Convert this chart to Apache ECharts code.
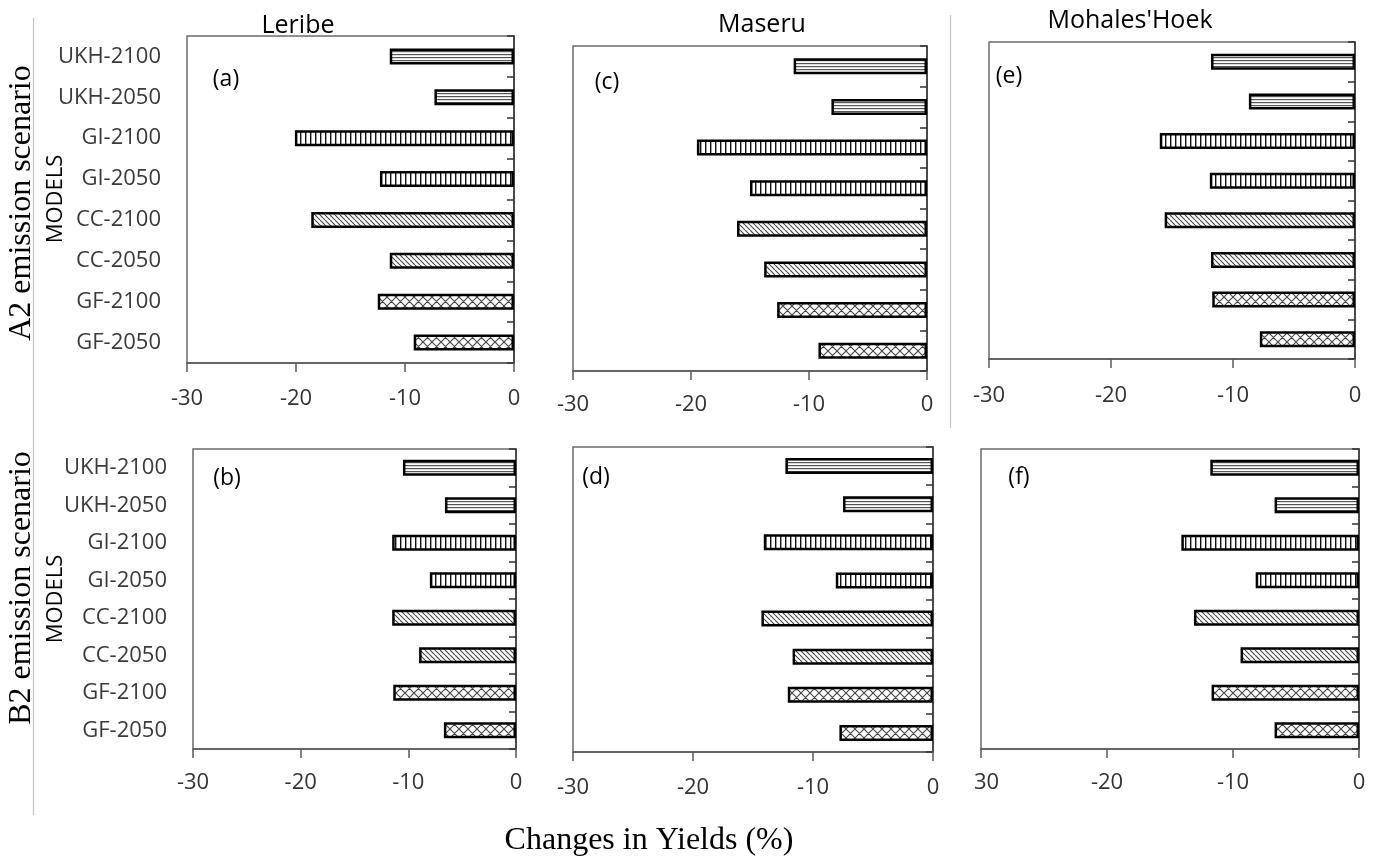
<!DOCTYPE html>
<html>
<head>
<meta charset="utf-8">
<title>Changes in Yields (%)</title>
<script src="https://cdn.jsdelivr.net/npm/echarts@6/dist/echarts.min.js"></script>
<style>
  html, body { margin: 0; padding: 0; background: #fff; }
  #chart { width: 1378px; height: 858px; }
</style>
</head>
<body>
<div id="chart"></div>
<script>
// Climate models / time slices, listed top to bottom
const categories = ['UKH-2100', 'UKH-2050', 'GI-2100', 'GI-2050', 'CC-2100', 'CC-2050', 'GF-2100', 'GF-2050'];

// Change in yield (%) per district, A2 emission scenario
const leribeA2  = [-11.4, -7.3, -20.1, -12.3, -18.6, -11.4, -12.5, -9.2];
const maseruA2  = [-11.3, -8.1, -19.5, -15.0, -16.1, -13.8, -12.7, -9.2];
const mohalesA2 = [-11.8, -8.7, -16.0, -11.9, -15.6, -11.8, -11.7, -7.8];

// Change in yield (%) per district, B2 emission scenario
const leribeB2  = [-10.5, -6.6, -11.5, -8.0, -11.5, -9.0, -11.4, -6.7];
const maseruB2  = [-12.3, -7.5, -14.1, -8.1, -14.3, -11.7, -12.1, -7.8];
const mohalesB2 = [-11.8, -6.7, -14.1, -8.2, -13.1, -9.4, -11.7, -6.7];

// Value axis ticks
const xTicks = [-30, -20, -10, 0];

const districts = ['Leribe', 'Maseru', "Mohales'Hoek"];
const panelTags = ['(a)', '(c)', '(e)', '(b)', '(d)', '(f)'];

const SANS = "'Open Sans', 'Noto Sans', sans-serif";
const SERIF = "'Liberation Serif', 'DejaVu Serif', serif";

// ---- hatch fills -------------------------------------------------------
function makeCanvas(w, h, draw) {
  const c = document.createElement('canvas');
  c.width = w; c.height = h;
  const ctx = c.getContext('2d');
  ctx.fillStyle = '#fff';
  ctx.fillRect(0, 0, w, h);
  draw(ctx, w, h);
  return c;
}
const hatch = {
  // dense horizontal lines
  UKH: makeCanvas(4, 3, (ctx, w) => { ctx.fillStyle = '#555'; ctx.fillRect(0, 0, w, 1.2); }),
  // vertical lines
  GI: makeCanvas(5, 4, (ctx, w, h) => { ctx.fillStyle = '#111'; ctx.fillRect(0, 0, 1.4, h); }),
  // back-slash diagonals
  CC: makeCanvas(5, 5, (ctx, w, h) => {
    ctx.strokeStyle = '#444'; ctx.lineWidth = 1.1;
    ctx.beginPath();
    for (let k = -1; k <= 1; k++) { ctx.moveTo(k * w, 0); ctx.lineTo(k * w + w, h); }
    ctx.stroke();
  }),
  // diagonal cross-hatch
  GF: makeCanvas(9, 9, (ctx, w, h) => {
    ctx.strokeStyle = '#444'; ctx.lineWidth = 1.1;
    ctx.beginPath();
    for (let k = -1; k <= 1; k++) {
      ctx.moveTo(k * w, 0); ctx.lineTo(k * w + w, h);
      ctx.moveTo(k * w + w, 0); ctx.lineTo(k * w, h);
    }
    ctx.stroke();
  })
};

function barItems(values) {
  return values.map((v, i) => ({
    value: v,
    itemStyle: {
      color: { image: hatch[categories[i].split('-')[0]], repeat: 'repeat' },
      borderColor: '#000',
      borderWidth: 2.5
    }
  }));
}

// ---- panel layout (a, c, e on top; b, d, f below) ----------------------
// In panel (f) the leftmost tick label loses its minus sign at the frame edge.
const clippedFirst = v => (v === xTicks[0] ? '{clip|' + String(-v) + '}' : String(v));

const panels = [
  { data: leribeA2,  grid: { left: 187, top: 36,  width: 327, height: 327 }, labels: true,  margin: 25 },
  { data: maseruA2,  grid: { left: 573, top: 46,  width: 354, height: 325 }, labels: false, margin: 23 },
  { data: mohalesA2, grid: { left: 989, top: 42,  width: 366, height: 317 }, labels: false, margin: 26 },
  { data: leribeB2,  grid: { left: 193, top: 449, width: 323, height: 300 }, labels: true,  margin: 23 },
  { data: maseruB2,  grid: { left: 573, top: 447, width: 360, height: 305 }, labels: false, margin: 25 },
  { data: mohalesB2, grid: { left: 981, top: 449, width: 378, height: 300 }, labels: false, margin: 23, clip: true }
];

const grids = [], xAxes = [], yAxes = [], series = [];
panels.forEach((p, i) => {
  grids.push(Object.assign({ show: true, borderColor: '#6b6b6b', borderWidth: 1.5, containLabel: false }, p.grid));
  const xLabel = { fontFamily: SANS, fontSize: 22, color: '#333', margin: p.margin };
  if (p.clip) {
    xLabel.formatter = clippedFirst;
    xLabel.rich = { clip: { fontFamily: SANS, fontSize: 22, color: '#333', padding: [0, 0, 0, 11] } };
  }
  xAxes.push({
    type: 'value', gridIndex: i,
    min: xTicks[0], max: xTicks[xTicks.length - 1], interval: xTicks[1] - xTicks[0],
    axisLine: { show: true, lineStyle: { color: '#5a5a5a', width: 1.5 } },
    axisTick: { show: true, length: 9, lineStyle: { color: '#5a5a5a', width: 1.5 } },
    splitLine: { show: false },
    axisLabel: xLabel
  });
  // model names on the left edge
  yAxes.push({
    type: 'category', gridIndex: i, data: categories, inverse: true, position: 'left',
    axisLine: { show: false }, axisTick: { show: false }, splitLine: { show: false },
    axisLabel: { show: p.labels, fontFamily: SANS, fontSize: 22, color: '#3a3a3a', margin: 26 }
  });
  // zero line with inward category ticks on the right edge
  yAxes.push({
    type: 'category', gridIndex: i, data: categories, inverse: true, position: 'right',
    axisLine: { show: true, onZero: false, lineStyle: { color: '#333', width: 1.5 } },
    axisTick: { show: true, inside: true, length: 7, lineStyle: { color: '#333', width: 1.5 } },
    axisLabel: { show: false }, splitLine: { show: false }
  });
  series.push({
    type: 'bar', xAxisIndex: i, yAxisIndex: 2 * i + 1,
    barWidth: 16, data: barItems(p.data), silent: true, animation: false
  });
});

// ---- free text and frame lines -------------------------------------------
function txt(x, y, text, size, font, opts) {
  return Object.assign({
    type: 'text', x: x, y: y, silent: true,
    style: Object.assign({ text: text, fontSize: size, fontFamily: font, fill: '#000',
      textAlign: 'center', textVerticalAlign: 'middle' }, (opts && opts.style) || {})
  }, opts && opts.rotation !== undefined ? { rotation: opts.rotation } : {});
}
function vline(x, y1, y2) {
  return { type: 'line', silent: true, shape: { x1: x, y1: y1, x2: x, y2: y2 },
    style: { stroke: '#c4c4c4', lineWidth: 1.2 } };
}

const graphics = [
  vline(33.5, 18, 815),
  vline(950.5, 15, 428),
  txt(298, 26, districts[0], 25, SANS),
  txt(762, 25, districts[1], 25, SANS),
  txt(1130, 21, districts[2], 25, SANS),
  txt(226, 79, panelTags[0], 23, SANS),
  txt(607, 82, panelTags[1], 23, SANS),
  txt(1009, 76, panelTags[2], 23, SANS),
  txt(227, 478, panelTags[3], 23, SANS),
  txt(596, 477, panelTags[4], 23, SANS),
  txt(1019, 477, panelTags[5], 23, SANS),
  txt(22, 203, 'A2 emission scenario', 32, SERIF, { rotation: Math.PI / 2 }),
  txt(22, 588, 'B2 emission scenario', 32, SERIF, { rotation: Math.PI / 2 }),
  txt(56, 199, 'MODELS', 22, SANS, { rotation: Math.PI / 2 }),
  txt(56, 599, 'MODELS', 22, SANS, { rotation: Math.PI / 2 }),
  txt(649, 841, 'Changes in Yields (%)', 32, SERIF)
];

const chart = echarts.init(document.getElementById('chart'), null, { renderer: 'canvas' });
chart.setOption({
  backgroundColor: '#fff',
  animation: false,
  grid: grids,
  xAxis: xAxes,
  yAxis: yAxes,
  series: series,
  graphic: graphics
});
</script>
</body>
</html>
